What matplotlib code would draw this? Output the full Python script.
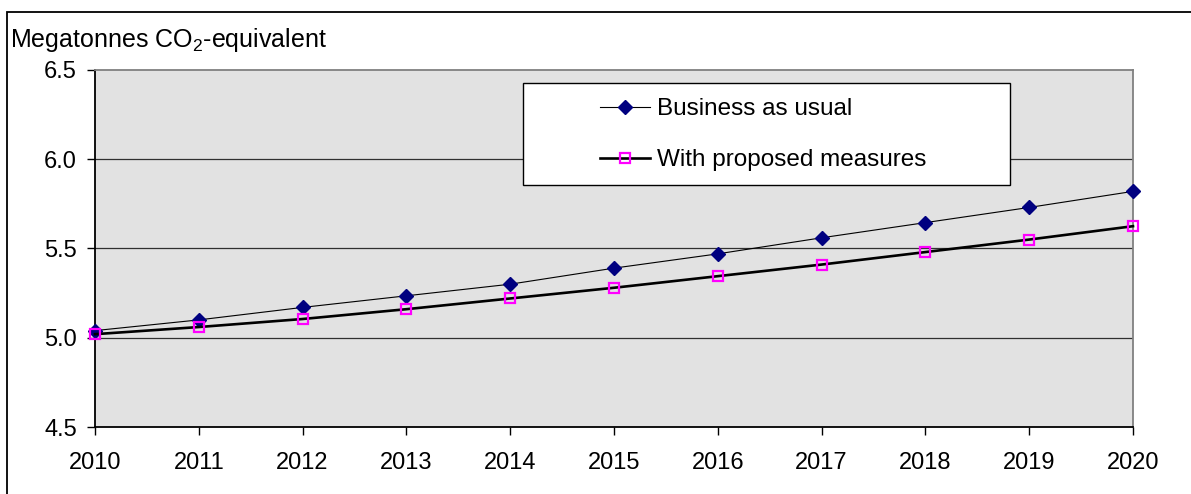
import matplotlib
matplotlib.use("Agg")
import matplotlib.pyplot as plt
from matplotlib.patches import Rectangle

plt.rcParams['font.family'] = ['Liberation Sans', 'DejaVu Sans']
plt.rcParams['mathtext.fontset'] = 'custom'
plt.rcParams['mathtext.rm'] = 'Liberation Sans'
plt.rcParams['mathtext.it'] = 'Liberation Sans:italic'

years = [2010, 2011, 2012, 2013, 2014, 2015, 2016, 2017, 2018, 2019, 2020]
business_as_usual = [5.04, 5.10, 5.17, 5.235, 5.30, 5.39, 5.47, 5.56, 5.645, 5.73, 5.82]
with_measures = [5.02, 5.06, 5.105, 5.16, 5.22, 5.28, 5.345, 5.41, 5.48, 5.55, 5.625]
y_ticks = [4.5, 5.0, 5.5, 6.0, 6.5]

W, H = 1191, 494
fig = plt.figure(figsize=(W / 100, H / 100), dpi=100)
ax = fig.add_axes([95 / W, 1 - 427 / H, (1133 - 95) / W, (427 - 70) / H])

# outer frame round the whole chart (runs off the right and bottom edges)
fig.patches.append(Rectangle((7 / W, -0.05), 1.1, 1.05 - 12 / H, transform=fig.transFigure,
                             fill=False, edgecolor='black', linewidth=1.3))

ax.set_facecolor('#e2e2e2')
for y in [5.0, 5.5, 6.0]:
    ax.axhline(y, color='#303030', linewidth=0.9, zorder=1)

ax.plot(years, business_as_usual, color='black', linewidth=0.8, marker='D',
        markersize=7.5, markerfacecolor='#000080', markeredgecolor='#000080',
        label='Business as usual', zorder=3, clip_on=False)
ax.plot(years, with_measures, color='black', linewidth=1.9, marker='s',
        markersize=7.5, markerfacecolor='none', markeredgecolor='#ff00ff',
        markeredgewidth=1.6, label='With proposed measures', zorder=4, clip_on=False)

ax.set_xlim(2010, 2020)
ax.set_ylim(4.5, 6.5)
ax.set_xticks(years)
ax.set_yticks(y_ticks)
ax.set_yticklabels([f'{v:.1f}' for v in y_ticks])
ax.tick_params(axis='both', direction='out', length=6, width=1, labelsize=17,
               colors='black')
ax.tick_params(axis='y', pad=7)
ax.tick_params(axis='x', pad=12)

ax.spines['left'].set_color('black')
ax.spines['bottom'].set_color('black')
ax.spines['top'].set_color('#808080')
ax.spines['right'].set_color('#808080')
for s in ax.spines.values():
    s.set_linewidth(1.3)

fig.text(10 / W, 1 - 47 / H, r'Megatonnes CO$_2$-equivalent', fontsize=18,
         ha='left', va='baseline')

# legend box drawn separately, legend entries placed inside it
fig.patches.append(Rectangle((523 / W, 1 - 185 / H), (1010 - 523) / W, (185 - 83) / H,
                             transform=fig.transFigure, facecolor='white',
                             edgecolor='black', linewidth=1.0, zorder=5))
leg = fig.legend(loc='upper left', bbox_to_anchor=(600 / W, 1 - 98 / H), fontsize=17.5,
                 frameon=False, borderpad=0, labelspacing=1.2, handlelength=2.05,
                 handletextpad=0.3, borderaxespad=0)
leg.set_zorder(6)

fig.savefig('out.png', dpi=100)
